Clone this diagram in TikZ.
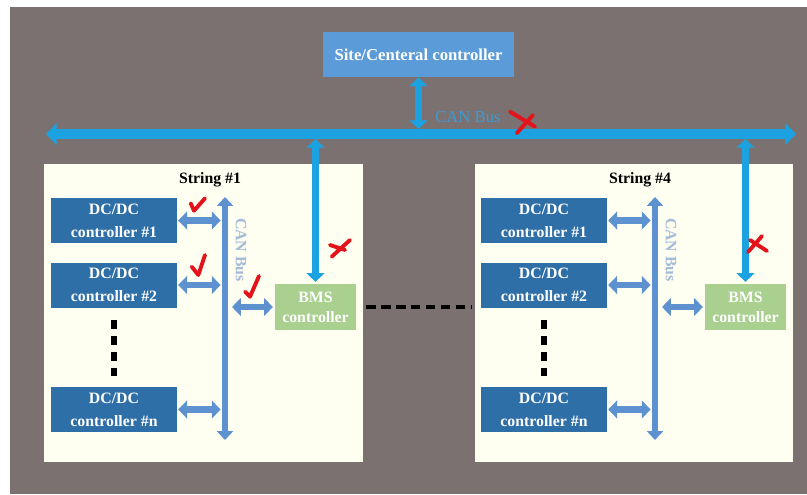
\documentclass[tikz,border=0pt]{standalone}
\usepackage{fontspec}
\setmainfont{Liberation Serif}
\usetikzlibrary{positioning,arrows.meta,calc}
\definecolor{bggray}{HTML}{7A7170}
\definecolor{paper}{HTML}{FEFEF1}
\definecolor{dcblue}{HTML}{2F6FA8}
\definecolor{siteblue}{HTML}{5B9BD7}
\definecolor{buscyan}{HTML}{1CA2E1}
\definecolor{busblue}{HTML}{5E91CF}
\definecolor{bmsgreen}{HTML}{A9D08E}
\definecolor{marked}{HTML}{E3121B}
\definecolor{captext}{HTML}{A3BAD8}
\definecolor{toptext}{HTML}{3F9BD6}

\begin{document}
\begin{tikzpicture}[x=0.02cm,y=-0.02cm,
    sitebox/.style={fill=siteblue,text=white,font=\bfseries\fontsize{9.5}{11}\selectfont,
      minimum width=3.82cm,minimum height=0.9cm,inner sep=0pt},
    strbox/.style={fill=paper,minimum width=6.38cm,minimum height=5.96cm,inner sep=0pt},
    dcbox/.style={fill=dcblue,text=white,font=\bfseries\fontsize{9}{13}\selectfont,
      minimum width=2.52cm,minimum height=0.9cm,align=center,inner sep=0pt},
    bmsbox/.style={fill=bmsgreen,text=white,font=\bfseries\fontsize{9}{11.5}\selectfont,
      minimum width=1.62cm,minimum height=0.92cm,align=center,inner sep=0pt},
    strlabel/.style={font=\bfseries\fontsize{9}{10}\selectfont},
    mainbus/.style={draw=buscyan,line width=5.7pt,{Triangle[width=12pt,length=6pt]}-{Triangle[width=12pt,length=6pt]}},
    drop/.style={draw=buscyan,line width=4pt,{Triangle[width=10pt,length=5pt]}-{Triangle[width=10pt,length=5pt]}},
    strbus/.style={draw=busblue,line width=3.4pt,{Triangle[width=9pt,length=5pt]}-{Triangle[width=9pt,length=5pt]}},
    link/.style={draw=busblue,line width=3.6pt,{Triangle[width=10pt,length=5pt]}-{Triangle[width=10pt,length=5pt]}},
    vdots/.style={draw=black,line width=3pt,dash pattern=on 5pt off 4pt},
    hdots/.style={draw=black,line width=2.8pt,dash pattern=on 5.5pt off 3pt},
    redmark/.style={draw=marked,line width=2.2pt,line cap=round,line join=round}]

  % background
  \fill[white] (0,0) rectangle (807,494);
  \fill[bggray] (10,7) rectangle (807,494);

  % site controller and CAN bus
  \node[sitebox] (site) at (418.5,54.5) {Site/Centeral controller};
  \coordinate (busL) at (46,134);
  \coordinate (busR) at (796,134);
  \draw[mainbus] (busL) -- (busR);
  \draw[drop,shorten >=2.8pt] (site.south) -- (site.south |- busL);
  \node[text=toptext,font=\fontsize{9.5}{10}\selectfont] (cantop) at (468,117) {CAN Bus};

  % strings
  \node[strbox] (str1) at (203.5,313) {};
  \node[strbox] (str4) at (634,313) {};

  \foreach \s/\dx in {1/0,4/430}{
    \begin{scope}[shift={(\dx,0)}]
      \node[strlabel] (lab\s) at (210,180) {String \#\s};
      \foreach \k/\y in {1/220.5,2/285,n/409.5}
        \node[dcbox] (dc\s-\k) at (114,\y) {DC/DC\\controller \#\k};
      \coordinate (bt\s) at (225,197);
      \coordinate (bb\s) at (225,440);
      \draw[strbus] (bt\s) -- (bb\s);
      \node[text=captext,rotate=-90,font=\bfseries\fontsize{9}{10}\selectfont] (cl\s) at (241,250) {CAN Bus};
      \foreach \k in {1,2,n}
        \draw[link,shorten <=0.5pt,shorten >=2.5pt] (dc\s-\k.east) -- (dc\s-\k.east -| bt\s);
      \draw[vdots,shorten <=7pt,shorten >=5.7pt] (dc\s-2.south) -- (dc\s-n.north);
      \node[bmsbox] (bms\s) at (315.5,307) {BMS\\controller};
      \draw[link,shorten <=4pt,shorten >=1pt] (bt\s |- bms\s) -- (bms\s.west);
      \draw[drop,shorten <=2.8pt,shorten >=1pt] (bms\s.north |- busL) -- (bms\s.north);
    \end{scope}
  }

  \draw[hdots,shorten <=5.5pt,shorten >=1.5pt] (bms1.east) -- (str4.west |- bms1);

  % red marks
  \draw[redmark] (190.7,203.3) -- (194,210.7) -- (205,198.3);
  \draw[redmark] (191.7,266.7) -- (198.3,275) -- (205,255);
  \draw[redmark] (245,291.7) -- (250,296.7) -- (259,276);
  \draw[redmark] (510,111.7) -- (535,126.7) (533,115) -- (516.7,133.3);
  \draw[redmark] (331.7,256.7) -- (350,240) (330,245) -- (345,250);
  \draw[redmark] (748,252) -- (762,236) (750,240) -- (767,251);
\end{tikzpicture}
\end{document}
